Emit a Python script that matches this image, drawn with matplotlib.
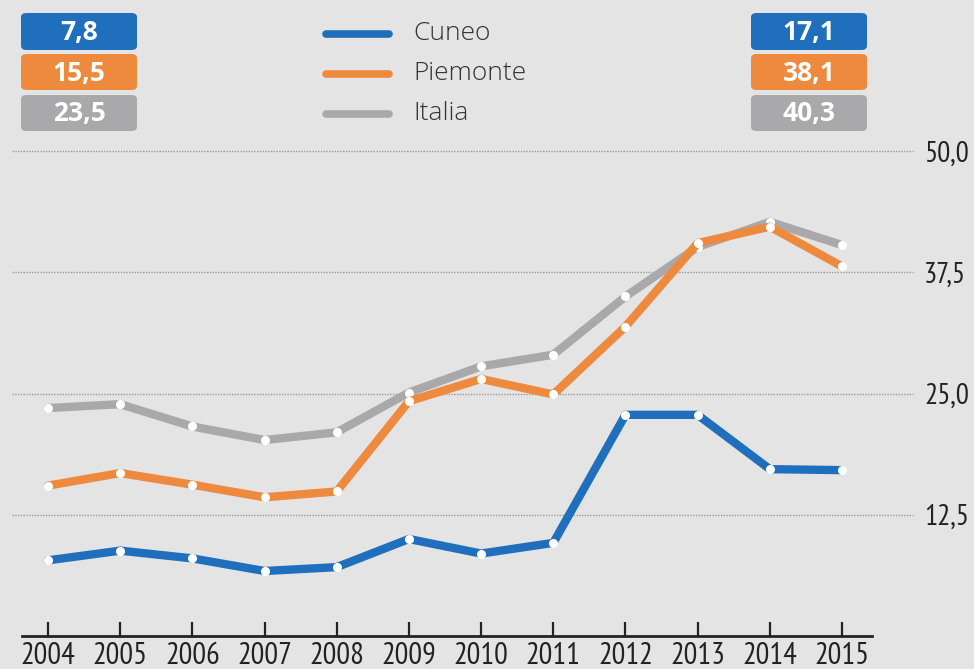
import matplotlib
matplotlib.use("Agg")
import matplotlib.pyplot as plt
from matplotlib.patches import FancyBboxPatch
from matplotlib.lines import Line2D

years = [2004, 2005, 2006, 2007, 2008, 2009, 2010, 2011, 2012, 2013, 2014, 2015]
cuneo = [7.8, 8.8, 8.0, 6.7, 7.1, 10.0, 8.5, 9.6, 22.8, 22.8, 17.2, 17.1]
piemonte = [15.5, 16.8, 15.6, 14.3, 14.9, 24.2, 26.5, 24.9, 31.9, 40.5, 42.2, 38.1]
italia = [23.5, 23.9, 21.6, 20.2, 21.0, 25.1, 27.8, 29.0, 35.0, 40.1, 42.7, 40.3]
series_names = ["Cuneo", "Piemonte", "Italia"]
yticks = [12.5, 25.0, 37.5, 50.0]

BLUE = "#1f6fbd"
ORANGE = "#ee8a3e"
GRAY = "#a9a9ab"
BG = "#e4e4e4"
NARROW = ["PT Sans Narrow", "Liberation Sans Narrow", "DejaVu Sans"]
REG = ["Open Sans", "DejaVu Sans"]

W, H = 974, 669
fig = plt.figure(figsize=(W / 100, H / 100), dpi=100, facecolor=BG)

def fx(x):
    return x / W

def fy(y):
    return 1 - y / H

# axes geometry (pixels)
x_left, x_right = 12, 913
y0_px, y50_px = 636, 151
ppu = (y0_px - y50_px) / 50.0
ytop = 51.0
y_top_px = y0_px - ytop * ppu
ax = fig.add_axes([fx(x_left), fy(y0_px), (x_right - x_left) / W, (y0_px - y_top_px) / H])
ax.set_facecolor(BG)

ppy = (842 - 48) / 11.0
ax.set_xlim(2004 - (48 - x_left) / ppy, 2015 + (x_right - 842) / ppy)
ax.set_ylim(0, ytop)

for s in ["top", "left", "right"]:
    ax.spines[s].set_visible(False)
ax.spines["bottom"].set_color("#222222")
ax.spines["bottom"].set_linewidth(2.0)
ax.spines["bottom"].set_bounds(2004 - (48 - 22) / ppy, 2015 + (872 - 842) / ppy)

# grid lines
for v in yticks:
    ax.axhline(v, color="#9a9a9a", lw=1.0, ls=(0, (1, 1)), zorder=1, clip_on=False)

ax.yaxis.tick_right()
ax.set_yticks(yticks)
ax.set_yticklabels([f"{v:.1f}".replace(".", ",") for v in yticks], family=NARROW,
                   fontsize=21, color="#222222")
ax.tick_params(axis="y", length=0, pad=8)

ax.set_xticks(years)
ax.set_xticklabels([str(y) for y in years], family=NARROW, fontsize=22, color="#222222")
ax.tick_params(axis="x", direction="in", length=10, width=1.6, color="#222222", pad=4)

for data, col, z in [(italia, GRAY, 3), (piemonte, ORANGE, 4), (cuneo, BLUE, 5)]:
    ax.plot(years, data, color=col, lw=6, solid_joinstyle="round", solid_capstyle="round",
            marker="o", markersize=5.5, markerfacecolor="white", markeredgecolor="white",
            zorder=z)

# legend
leg_y = [34, 74, 114]
for name, col, yy in zip(series_names, [BLUE, ORANGE, GRAY], leg_y):
    fig.add_artist(Line2D([fx(326), fx(389)], [fy(yy), fy(yy)], color=col, lw=5.5,
                          solid_capstyle="round", transform=fig.transFigure))
    fig.text(fx(413), fy(yy - 1), name, family=REG, fontweight="light", fontsize=19,
             color="#333333", va="center", ha="left")

# value boxes
rows = [(13, 50), (54, 90), (95, 131)]
first_vals = [cuneo[0], piemonte[0], italia[0]]
last_vals = [cuneo[-1], piemonte[-1], italia[-1]]
for (x0, x1), vals in [((21, 137), first_vals), ((751, 867), last_vals)]:
    for (yt, yb), col, v in zip(rows, [BLUE, ORANGE, GRAY], vals):
        box = FancyBboxPatch((fx(x0), fy(yb)), (x1 - x0) / W, (yb - yt) / H,
                             boxstyle="round,pad=0,rounding_size=0.006",
                             transform=fig.transFigure, facecolor=col, edgecolor="none")
        fig.add_artist(box)
        fig.text(fx((x0 + x1) / 2), fy((yt + yb) / 2 + 1), f"{v:.1f}".replace(".", ","),
                 family=REG, fontweight="bold", fontsize=19,
                 color="white", ha="center", va="center")

fig.savefig("out.png", dpi=100, facecolor=BG)
